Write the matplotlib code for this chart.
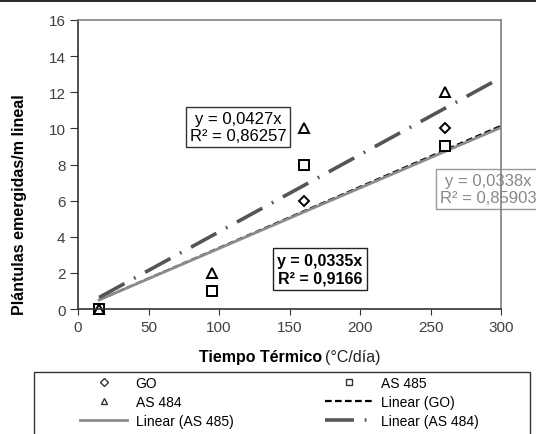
import numpy as np
import matplotlib.pyplot as plt
from matplotlib.lines import Line2D
from matplotlib.patches import Rectangle

plt.rcParams['font.family'] = ['Liberation Sans', 'DejaVu Sans']

# Datos
tiempo = [15, 95, 160, 260]
go = [0, 1, 6, 10]
as485 = [0, 1, 8, 9]
as484 = [0, 2, 10, 12]

# Pendientes de las líneas de tendencia (por el origen)
pend_go = 0.0338
pend_as485 = 0.0335
pend_as484 = 0.0427
x_lin = [15, 300]

W, H = 536, 435
fig = plt.figure(figsize=(W/100, H/100), dpi=100)
ax = fig.add_axes([78/W, 1-310/H, 423/W, 289/H])

def px(x, y):
    return x/W, 1-y/H

ax.plot(x_lin, [pend_go*x for x in x_lin], color='black', lw=1.6, ls=(0, (3, 1.5)), label='Linear (GO)')
ax.plot(x_lin, [pend_as485*x for x in x_lin], color='#8c8c8c', lw=2, label='Linear (AS 485)')
ax.plot(x_lin, [pend_as484*x for x in x_lin], color='#555555', lw=2.6,
        dashes=(8, 3, 0.5, 3), dash_capstyle='butt', label='Linear (AS 484)')

mk = dict(ls='none', mfc='white', mec='black', mew=1.4, ms=7, clip_on=False)
ax.plot(tiempo, go, marker='D', label='GO', **dict(mk, ms=5.5))
ax.plot(tiempo, as485, marker='s', label='AS 485', **mk)
ax.plot(tiempo, as484, marker='^', label='AS 484', **mk)

ax.set_xlim(0, 300)
ax.set_ylim(0, 16)
ax.set_xticks(np.arange(0, 301, 50))
ax.set_yticks(np.arange(0, 17, 2))
ax.tick_params(direction='out', length=4, pad=4, colors='#333333', labelsize=11, labelcolor='#404040')
ax.tick_params(axis='y', length=6, pad=3)
for s in ['left', 'bottom']:
    ax.spines[s].set_color('#333333')
    ax.spines[s].set_linewidth(1.2)
for s in ['top', 'right']:
    ax.spines[s].set_color('#808080')
    ax.spines[s].set_linewidth(1.2)

# Títulos de ejes
fig.text(*px(20, 205), 'Plántulas emergidas/m lineal', fontsize=11.5, fontweight='bold',
         rotation=90, ha='center', va='center')
fig.text(*px(322, 358), 'Tiempo Térmico', fontsize=11.5, fontweight='bold', ha='right', va='center')
fig.text(*px(325, 358), '(°C/día)', fontsize=11.5, ha='left', va='center', color='#222222')

# Ecuaciones
fig.text(*px(238, 128), 'y = 0,0427x\nR² = 0,86257', fontsize=12, ha='center', va='center',
         bbox=dict(boxstyle='square,pad=0.25', fc='white', ec='#333333', lw=1))
fig.text(*px(488, 190), 'y = 0,0338x\nR² = 0,85903', fontsize=12, ha='center', va='center',
         color='#888888', zorder=0.5,
         bbox=dict(boxstyle='square,pad=0.25', fc='white', ec='#999999', lw=1))
fig.text(*px(320, 270), 'y = 0,0335x\nR² = 0,9166', fontsize=11.5, ha='center', va='center',
         fontweight='bold',
         bbox=dict(boxstyle='square,pad=0.3', fc='white', ec='#222222', lw=1))
ax.set_zorder(1)
ax.patch.set_alpha(0)

# Leyenda
handles, labels = ax.get_legend_handles_labels()
orden = [3, 5, 1, 4, 0, 2]
leg_h = []
for i in orden:
    h = handles[i]
    if h.get_marker() not in ('None', None, ''):
        h = Line2D([], [], ls='none', marker=h.get_marker(), mfc='white', mec='#333333',
                   mew=1, ms=5 if h.get_marker() != 'D' else 4)
    leg_h.append(h)
leg = fig.legend(leg_h, [labels[i] for i in orden], ncol=2,
                 loc='upper left', bbox_to_anchor=px(80, 377),
                 fontsize=10, frameon=False, handlelength=3.4, handletextpad=0.6,
                 columnspacing=6.6, labelspacing=0.35, borderpad=0, borderaxespad=0)
fig.add_artist(Rectangle(px(34, 440), 496/W, 67/H, transform=fig.transFigure,
                         fc='none', ec='#333333', lw=1))

fig.add_artist(Line2D([0, 1], [1-2/H, 1-2/H], color='black', lw=1.2, transform=fig.transFigure))

fig.savefig('out.png', dpi=100)
